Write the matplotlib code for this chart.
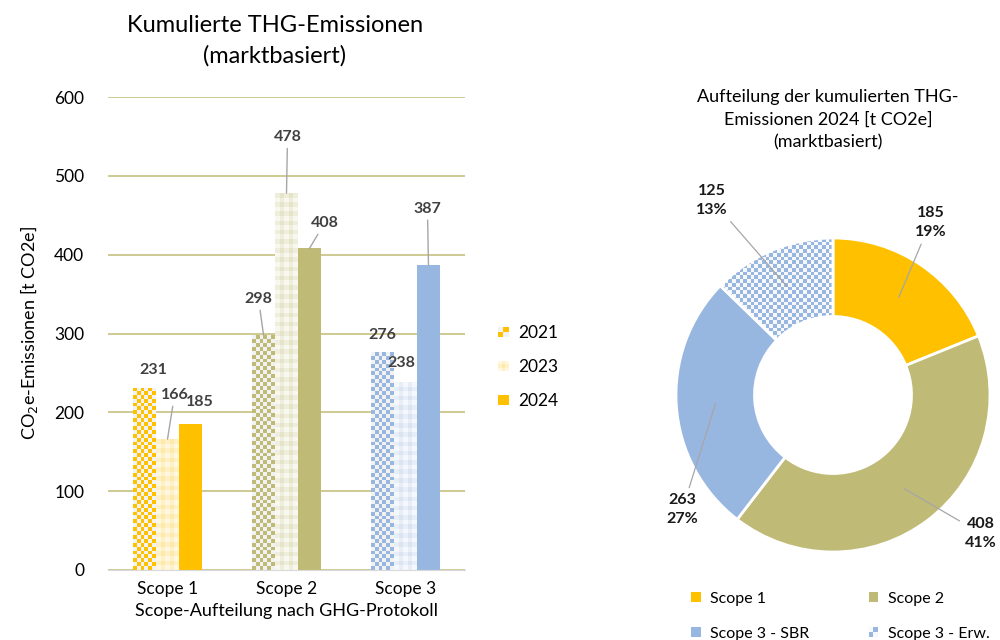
import matplotlib
matplotlib.use("Agg")
import matplotlib.pyplot as plt
import numpy as np
from matplotlib.legend_handler import HandlerBase
from matplotlib.patches import Rectangle

plt.rcParams['font.family'] = ['Lato', 'DejaVu Sans']

# bar chart data
scopes = ['Scope 1', 'Scope 2', 'Scope 3']
years = ['2021', '2023', '2024']
em_2021 = [231, 298, 276]
em_2023 = [166, 478, 238]
em_2024 = [185, 408, 387]

# donut data
pie_labels = ['Scope 1', 'Scope 2', 'Scope 3 - SBR', 'Scope 3 - Erw.']
pie_values = [185, 408, 263, 125]

base_col = ['#FFC000', '#C0BA77', '#98B7E0']
check_bg = '#F2F2F2'
ging_col = [['#FFF7E0', '#FFF0C8', '#FFE9A8'],
            ['#F8F8EE', '#EFEEDC', '#E6E4C8'],
            ['#F4F7FB', '#E7EEF7', '#DAE4F1']]
text_col = '#404040'
lead_col = '#A6A6A6'


def pattern_image(kind, cols, nrows, ncols):
    i, j = np.indices((nrows, ncols))
    if kind == 'checker':
        idx = (i + j) % 2
    else:
        idx = i % 2 + j % 2
    rgb = np.array([matplotlib.colors.to_rgb(c) for c in cols])
    return rgb[idx]


def fill_pattern(ax, patch, kind, cols, extent, cell_px):
    x0, x1, y0, y1 = extent
    p0 = ax.transData.transform((x0, y0))
    p1 = ax.transData.transform((x1, y1))
    ncols = max(1, int(round(abs(p1[0] - p0[0]) / cell_px)))
    nrows = max(1, int(round(abs(p1[1] - p0[1]) / cell_px)))
    img = pattern_image(kind, cols, nrows, ncols)
    im = ax.imshow(img, extent=extent, origin='lower', interpolation='nearest',
                   aspect='auto', zorder=patch.get_zorder() + 0.1)
    im.set_clip_path(patch)
    return im


def rounded_percent(values):
    # largest remainder, so the shown shares add up to 100
    raw = 100 * np.array(values, dtype=float) / sum(values)
    pct = np.floor(raw).astype(int)
    order = np.argsort(-(raw - pct))
    for k in order[:100 - pct.sum()]:
        pct[k] += 1
    return pct


class PatternHandler(HandlerBase):
    def create_artists(self, legend, orig_handle, xdescent, ydescent,
                       width, height, fontsize, trans):
        kind, cols = orig_handle.pattern
        s = height * 0.85
        x0 = -xdescent + (width - s) / 2
        y0 = -ydescent + (height - s) / 2
        n = 1 if kind == 'solid' else (2 if kind == 'checker' else 3)
        arts = []
        for i in range(n):
            for j in range(n):
                if kind == 'solid':
                    c = cols[0]
                elif kind == 'checker':
                    c = cols[(i + j) % 2]
                else:
                    c = cols[i % 2 + j % 2]
                arts.append(Rectangle((x0 + j * s / n, y0 + i * s / n), s / n, s / n,
                                      facecolor=c, edgecolor='none', transform=trans))
        return arts


class PatternKey(Rectangle):
    def __init__(self, kind, cols):
        super().__init__((0, 0), 1, 1)
        self.pattern = (kind, cols)


fig = plt.figure(figsize=(10, 6.4), dpi=100)

# ---------------- bar chart ----------------
ax = fig.add_axes([0.108, 0.1094, 0.357, 0.739])
ax.set_xlim(-0.5, 2.5)
ax.set_ylim(0, 600)
x = np.arange(len(scopes))
w = 0.193

series = [em_2021, em_2023, em_2024]
offsets = [[(9, 18), (-5, 36), (0, 17)],
           [(7, 44), (1, 56), (-4, 19)],
           [(9, 22), (15, 25), (-1, 56)]]

for k, vals in enumerate(series):
    xs = x + (k - 1) * w
    for s_i, (xi, v) in enumerate(zip(xs, vals)):
        if k == 2:
            bar = ax.bar(xi, v, width=w, color=base_col[s_i], zorder=3)[0]
        else:
            bar = ax.bar(xi, v, width=w, color='none', zorder=3)[0]
            ext = (xi - w / 2, xi + w / 2, 0, v)
            if k == 0:
                fill_pattern(ax, bar, 'checker', [base_col[s_i], check_bg], ext, 3.9)
            else:
                fill_pattern(ax, bar, 'gingham', ging_col[s_i], ext, 4.6)
        dx, dy = offsets[k][s_i]
        props = dict(arrowstyle='-', color=lead_col, lw=1, shrinkA=1, shrinkB=0) if dy >= 25 else None
        ax.annotate(str(v), xy=(xi, v), xytext=(dx, dy), textcoords='offset pixels',
                    ha='center', va='center', fontsize=11.5, fontweight='bold',
                    color=text_col, arrowprops=props, zorder=5)

ax.set_xlim(-0.5, 2.5)
ax.set_ylim(0, 600)
ax.set_xticks(x)
ax.set_xticklabels(scopes, fontsize=12.5, color='#000000')
ax.set_yticks(np.arange(0, 601, 100))
ax.tick_params(axis='y', labelsize=12.5, length=0, pad=17)
ax.tick_params(axis='x', length=0, pad=8)
ax.yaxis.grid(True, color='#CCC68A', lw=1.3, zorder=0)
ax.set_axisbelow(True)
for sp in ['top', 'right', 'left']:
    ax.spines[sp].set_visible(False)
ax.spines['bottom'].set_color('#D9D9D9')
ax.spines['bottom'].set_zorder(4)
ax.set_ylabel('CO$_2$e-Emissionen [t CO2e]', fontsize=13, labelpad=10)
ax.set_xlabel('Scope-Aufteilung nach GHG-Protokoll', fontsize=13, labelpad=4)
fig.text(0.275, 1 - 41 / 640, 'Kumulierte THG-Emissionen\n(marktbasiert)',
         ha='center', va='center', fontsize=17, linespacing=1.5)

bar_keys = [PatternKey('checker', [base_col[0], check_bg]),
            PatternKey('gingham', ging_col[0]),
            PatternKey('solid', [base_col[0]])]
fig.legend(bar_keys, years, loc='center left', bbox_to_anchor=(0.48, 1 - 367 / 640),
           frameon=False, fontsize=12.5, labelspacing=1.05, handlelength=0.9,
           handletextpad=0.4, handler_map={PatternKey: PatternHandler()})

# ---------------- donut ----------------
R = 157
half = 204
pax = fig.add_axes([(833 - half) / 1000, 1 - (395 + half) / 640, 2 * half / 1000, 2 * half / 640])
lim = half / R
pax.set_xlim(-lim, lim)
pax.set_ylim(-lim, lim)
pax.set_aspect('equal')
pax.axis('off')

pie_cols = [base_col[0], base_col[1], base_col[2], 'none']
wedges, _ = pax.pie(pie_values, colors=pie_cols, startangle=90, counterclock=False,
                    radius=1, wedgeprops=dict(width=0.5, edgecolor='white', linewidth=2))
fill_pattern(pax, wedges[3], 'checker', [base_col[2], '#F7F8FB'], (-1, 1, -1, 1), 3.9)
wedges[3].set_edgecolor('white')
wedges[3].set_zorder(2)
pax.set_xlim(-lim, lim)
pax.set_ylim(-lim, lim)

pct = rounded_percent(pie_values)
label_pos = [(0.62, 1.10), (0.94, -0.88), (-0.96, -0.73), (-0.77, 1.24)]
for wd, v, p, pos in zip(wedges, pie_values, pct, label_pos):
    ang = np.deg2rad((wd.theta1 + wd.theta2) / 2)
    xy = (0.75 * np.cos(ang), 0.75 * np.sin(ang))
    pax.annotate('%d\n%d%%' % (v, p), xy=xy, xytext=pos,
                 ha='center', va='center', fontsize=11.5, fontweight='bold',
                 color='#1A1A1A', linespacing=1.45,
                 arrowprops=dict(arrowstyle='-', color=lead_col, lw=0.9, shrinkA=2, shrinkB=0),
                 zorder=6)

fig.text(0.828, 1 - 120 / 640, 'Aufteilung der kumulierten THG-\nEmissionen 2024 [t CO2e]\n(marktbasiert)',
         ha='center', va='center', fontsize=13, linespacing=1.5)

pie_keys = [PatternKey('solid', [base_col[0]]),
            PatternKey('solid', [base_col[2]]),
            PatternKey('solid', [base_col[1]]),
            PatternKey('checker', [base_col[2], '#F7F8FB'])]
fig.legend(pie_keys, [pie_labels[0], pie_labels[2], pie_labels[1], pie_labels[3]],
           ncol=2, loc='center left', bbox_to_anchor=(0.675, 1 - 616 / 640),
           frameon=False, fontsize=11.5, labelspacing=1.3, handlelength=0.8,
           handletextpad=0.5, columnspacing=3.6,
           handler_map={PatternKey: PatternHandler()})

fig.savefig('out.png', dpi=100)
